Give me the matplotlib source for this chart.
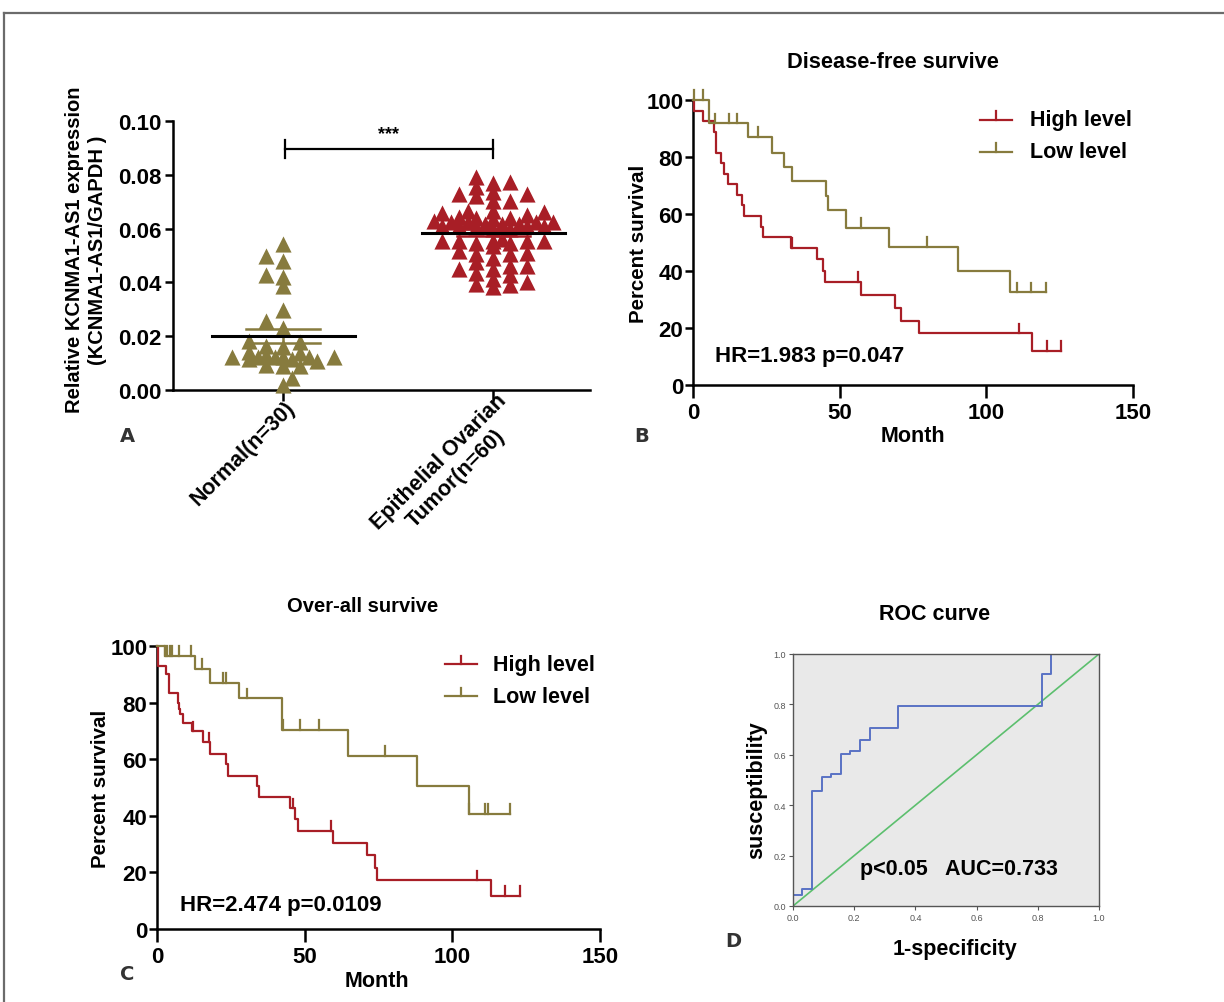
import numpy as np
import matplotlib
matplotlib.use("Agg")
import matplotlib.pyplot as plt
from matplotlib.lines import Line2D

# ---- expression scatter (relative KCNMA1-AS1 / GAPDH) ----
group_labels = ["Normal(n=30)", "Epithelial Ovarian\nTumor(n=60)"]
normal_expr = [
    0.0543, 0.0478, 0.0499, 0.0419, 0.0427, 0.0385, 0.0299, 0.0255, 0.0230,
    0.0177, 0.0159, 0.0165, 0.0183,
    0.0138, 0.0115, 0.0124, 0.0109, 0.0121, 0.0121, 0.0121, 0.0121, 0.0115,
    0.0130, 0.0121, 0.0142,
    0.0088, 0.0088, 0.0093, 0.0045, 0.0019,
]
tumor_expr = [
    0.0791, 0.0770, 0.0774,
    0.0735, 0.0729, 0.0754,
    0.0704, 0.0704, 0.0720, 0.0729,
    0.0667, 0.0658, 0.0642, 0.0638, 0.0667, 0.0638, 0.0651, 0.0661,
    0.0623, 0.0617, 0.0617, 0.0623, 0.0630, 0.0636, 0.0623, 0.0625,
    0.0605, 0.0598, 0.0610, 0.0610, 0.0610, 0.0617, 0.0598, 0.0610,
    0.0560, 0.0555, 0.0555, 0.0555, 0.0555, 0.0555,
    0.0546, 0.0536, 0.0546,
    0.0509, 0.0506, 0.0506, 0.0518,
    0.0491, 0.0475,
    0.0462, 0.0450, 0.0450, 0.0462,
    0.0435, 0.0429,
    0.0413, 0.0394, 0.0382, 0.0390, 0.0400,
]

# ---- Kaplan-Meier, disease-free survival (months, percent) ----
dfs_high_t = [0.3, 3.5, 7.3, 7.8, 9.4, 10.7, 11.8, 15.1, 16.6, 17.5, 23.1, 23.8,
              33.4, 42.4, 44.4, 45.0, 57.2, 68.7, 70.9, 77.2, 115.7]
dfs_high_s = [96.3, 92.6, 88.9, 81.5, 77.8, 74.1, 70.4, 66.7, 63.0, 59.3, 55.6, 51.9,
              48.1, 44.1, 40.1, 36.1, 31.6, 27.1, 22.6, 18.1, 12.0]
dfs_high_cens = [33.8, 56.2, 111.0, 120.6, 125.6]
dfs_low_t = [5.5, 18.6, 27.0, 31.1, 33.9, 45.2, 45.9, 52.2, 66.8, 90.3, 108.2]
dfs_low_s = [91.8, 87.0, 81.4, 76.5, 71.7, 66.4, 61.4, 55.2, 48.5, 40.1, 32.5]
dfs_low_cens = [0.5, 3.5, 7.5, 12.3, 15.1, 22.0, 57.2, 79.9, 110.3, 115.3, 120.3]

# ---- Kaplan-Meier, overall survival ----
os_high_t = [0.2, 3.0, 3.9, 7.0, 7.5, 7.9, 8.9, 11.7, 15.6, 17.9, 23.2, 24.2,
             33.9, 34.5, 45.1, 46.8, 47.8, 59.6, 71.0, 73.7, 74.4, 113.2]
os_high_s = [93.1, 90.2, 83.4, 79.8, 77.9, 76.1, 72.9, 69.8, 66.0, 62.0, 58.2, 54.0,
             50.6, 46.5, 42.6, 39.0, 34.6, 30.5, 26.2, 21.6, 17.2, 11.7]
os_high_cens = [12.3, 17.6, 45.9, 58.9, 108.2, 118.0, 122.9]
os_low_t = [2.6, 12.7, 18.0, 27.9, 42.3, 64.6, 88.2, 105.5]
os_low_s = [96.5, 92.0, 86.9, 81.5, 70.3, 61.2, 50.5, 40.7]
os_low_cens = [2.6, 3.4, 4.5, 5.1, 7.3, 11.6, 15.4, 22.2, 23.3, 30.5, 42.5, 48.5,
               54.7, 77.1, 105.7, 111.1, 112.2, 119.5]

# ---- ROC ----
roc_fpr = [0.0, 0.0, 0.031, 0.0625, 0.094, 0.125, 0.156, 0.1875, 0.219, 0.25,
           0.344, 0.8125, 0.844, 1.0]
roc_tpr = [0.0, 0.045, 0.068, 0.455, 0.511, 0.523, 0.602, 0.614, 0.659, 0.705,
           0.795, 0.92, 1.0, 1.0]

RED = "#a81e26"
OLIVE = "#877b3e"
plt.rcParams["font.family"] = ["Liberation Sans", "DejaVu Sans"]
plt.rcParams["font.weight"] = "bold"
plt.rcParams["axes.linewidth"] = 1.8

W, H = 1224, 1003
fig = plt.figure(figsize=(W / 100, H / 100), dpi=100)


def box(l, t, r, b):
    return [l / W, 1 - b / H, (r - l) / W, (b - t) / H]


def ftext(x, y, s, **kw):
    kw.setdefault("ha", "center")
    kw.setdefault("va", "center")
    fig.text(x / W, 1 - y / H, s, **kw)


# outer frame (top and left edges)
fig.add_artist(Line2D([4 / W, 1.0], [1 - 14 / H] * 2, color="#6b6b6b", lw=1.6))
fig.add_artist(Line2D([4 / W] * 2, [0, 1 - 14 / H], color="#6b6b6b", lw=1.6))


def prism_axes(ax):
    for side in ("top", "right"):
        ax.spines[side].set_visible(False)
    ax.tick_params(direction="out", width=1.8, labelsize=15)


def swarm_x(ax, xc, values, dx_px=17.0, dy_px=8.0, half_width=60.0):
    """Greedy column scatter kept inside +-half_width px; crowded rows overlap."""
    pts = ax.transData.transform(np.column_stack([np.full(len(values), xc), values]))
    x0 = pts[0, 0]
    placed = []
    xs = np.zeros(len(values))
    kmax = int(half_width // (dx_px / 2))
    for n, i in enumerate(np.argsort(values)):
        y = pts[i, 1]
        sign = 1 if n % 2 else -1
        cands = [0.0]
        for k in range(1, kmax + 1):
            cands += [sign * k * dx_px / 2, -sign * k * dx_px / 2]
        best, best_gap = 0.0, -1.0
        for off in cands:
            gap = min([(off - po) ** 2 / dx_px ** 2 + (y - py) ** 2 / dy_px ** 2
                       for po, py in placed] or [9.0])
            if gap >= 1:
                best = off
                break
            if gap > best_gap:
                best, best_gap = off, gap
        placed.append((best, y))
        xs[i] = ax.transData.inverted().transform((x0 + best, y))[0]
    return xs


# ---------------- A: expression scatter ----------------
axA = fig.add_axes(box(173, 122, 590, 391))
prism_axes(axA)
axA.set_xlim(0.476, 2.46)
axA.set_ylim(0, 0.10)
axA.set_yticks(np.arange(0, 0.101, 0.02))
axA.set_yticklabels([f"{v:.2f}" for v in np.arange(0, 0.101, 0.02)])
axA.tick_params(axis="y", length=6, pad=2, labelsize=16)
axA.set_xticks([1, 2])
axA.set_xticklabels([])
axA.tick_params(axis="x", length=8)

for xc, vals, col in ((1, normal_expr, OLIVE), (2, tumor_expr, RED)):
    vals = np.asarray(vals)
    xs = swarm_x(axA, xc, vals)
    axA.scatter(xs, vals, marker="^", s=135, color=col, linewidths=0,
                zorder=3, clip_on=False)
    m = vals.mean()
    sem = vals.std(ddof=1) / np.sqrt(len(vals))
    axA.plot([xc - 0.34, xc + 0.34], [m, m], color="black", lw=2.2, zorder=5)
    for v in (m - sem, m + sem):
        axA.plot([xc - 0.175, xc + 0.175], [v, v], color=col, lw=1.8, zorder=4)
    axA.plot([xc, xc], [m - sem, m + sem], color=col, lw=1.8, zorder=4)

for xc, lab, off in ((1, group_labels[0], (6, -10)), (2, group_labels[1], (13, -11))):
    axA.annotate(lab, xy=(xc, 0), xycoords=("data", "axes fraction"),
                 xytext=off, textcoords="offset points", rotation=45,
                 rotation_mode="anchor", ha="right", va="center",
                 multialignment="center", fontsize=15.5, annotation_clip=False)

# significance bracket
yb = 0.0896
axA.plot([1.01, 2.0], [yb, yb], color="black", lw=1.6)
for xb in (1.01, 2.0):
    axA.plot([xb, xb], [yb - 0.0033, yb + 0.0033], color="black", lw=1.6)
axA.text(1.5, yb + 0.0025, "***", ha="center", va="bottom", fontsize=13)

ftext(86, 250, "Relative KCNMA1-AS1 expression\n(KCNMA1-AS1/GAPDH )",
      rotation=90, fontsize=14.5, linespacing=1.25)
ftext(127, 437, "A", family="DejaVu Sans", fontsize=14, color="#333333")


# ---------------- Kaplan-Meier panels ----------------
def level_at(c, times, levels):
    i = np.searchsorted(times, c, side="right")
    return 100.0 if i == 0 else levels[i - 1]


def km(ax, t, s, cens, col):
    end = max(cens[-1], t[-1])
    ax.step([0] + list(t) + [end], [100] + list(s) + [s[-1]], where="post",
            color=col, lw=1.6, clip_on=False, zorder=3)
    for c in cens:
        lv = level_at(c, t, s)
        ax.plot([c, c], [lv, lv + 3.4], color=col, lw=1.6, clip_on=False, zorder=3)


def km_panel(rect, title, title_xy, title_size, curves, hr_text, hr_xy, leg_x, leg_y,
             ylab_x, xlab_xy, letter, letter_xy):
    ax = fig.add_axes(box(*rect))
    prism_axes(ax)
    ax.set_xlim(0, 150)
    ax.set_ylim(0, 100)
    ax.set_xticks([0, 50, 100, 150])
    ax.set_yticks([0, 20, 40, 60, 80, 100])
    ax.tick_params(axis="x", length=9, pad=3, labelsize=16)
    ax.tick_params(axis="y", length=6, pad=1, labelsize=16)
    for t, s, cens, col in curves:
        km(ax, t, s, cens, col)
    # legend: line sample with a censor tick
    for (lab, col), yl in zip((("High level", RED), ("Low level", OLIVE)), leg_y):
        ax.plot(leg_x[:2], [yl, yl], color=col, lw=1.6, transform=ax.transAxes, clip_on=False)
        xm = sum(leg_x[:2]) / 2
        ax.plot([xm, xm], [yl, yl + 0.03], color=col, lw=1.6, transform=ax.transAxes,
                clip_on=False)
        ax.text(leg_x[2], yl, lab, transform=ax.transAxes, ha="left", va="center",
                fontsize=15.5)
    ax.text(hr_xy[0], hr_xy[1], hr_text, transform=ax.transAxes, ha="left",
            va="center", fontsize=16)
    ftext(*title_xy, title, fontsize=title_size)
    ftext(ylab_x, (rect[1] + rect[3]) / 2, "Percent survival", rotation=90, fontsize=14.8)
    ftext(*xlab_xy, "Month", fontsize=15.5)
    ftext(*letter_xy, letter, family="DejaVu Sans", fontsize=14, color="#333333")
    return ax


km_panel((693, 101, 1133, 386), "Disease-free survive", (893, 63), 15.7,
         [(dfs_high_t, dfs_high_s, dfs_high_cens, RED),
          (dfs_low_t, dfs_low_s, dfs_low_cens, OLIVE)],
         "HR=1.983 p=0.047", (0.05, 0.105), (0.652, 0.725, 0.766), (0.930, 0.818),
         638, (913, 437), "B", (642, 437))

km_panel((157, 647, 600, 930), "Over-all survive", (363, 607), 14.5,
         [(os_high_t, os_high_s, os_high_cens, RED),
          (os_low_t, os_low_s, os_low_cens, OLIVE)],
         "HR=2.474 p=0.0109", (0.052, 0.088), (0.650, 0.722, 0.758), (0.936, 0.823),
         100, (377, 982), "C", (127, 975))

# ---------------- D: ROC curve ----------------
axD = fig.add_axes(box(793, 655, 1099, 907))
axD.set_facecolor("#e9e9e9")
axD.set_xlim(0, 1)
axD.set_ylim(0, 1)
for sp in axD.spines.values():
    sp.set_color("#555555")
    sp.set_linewidth(1.0)
axD.set_xticks(np.arange(0, 1.01, 0.2))
axD.set_yticks(np.arange(0, 1.01, 0.2))
axD.set_xticklabels([f"{v:.1f}" for v in np.arange(0, 1.01, 0.2)])
axD.set_yticklabels([f"{v:.1f}" for v in np.arange(0, 1.01, 0.2)])
axD.tick_params(direction="out", length=3, width=0.8, labelsize=6.5, colors="#555555", pad=2)
for lab in axD.get_xticklabels() + axD.get_yticklabels():
    lab.set_fontweight("normal")
axD.plot([0, 1], [0, 1], color="#5cbf6e", lw=1.2)
axD.step(roc_fpr, roc_tpr, where="post", color="#5a72c4", lw=1.4)
axD.text(0.219, 0.147, "p<0.05   AUC=0.733", transform=axD.transAxes, ha="left",
         va="center", fontsize=15.5)
ftext(935, 614, "ROC curve", fontsize=15.5)
ftext(757, 790, "susceptibility", rotation=90, fontsize=15.5)
ftext(955, 950, "1-specificity", fontsize=15.5)
ftext(733, 942, "D", family="DejaVu Sans", fontsize=14, color="#333333")

fig.savefig("out.png", dpi=100)
